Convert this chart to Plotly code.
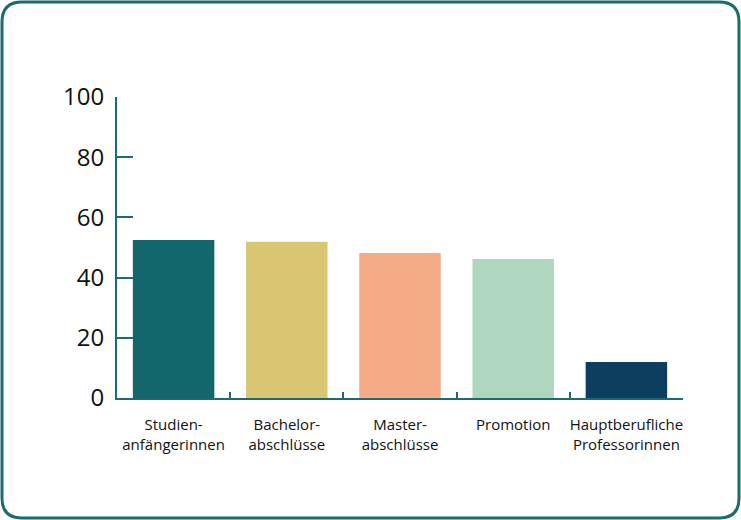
import plotly.graph_objects as go

categories = ["Studien-<br>anfängerinnen", "Bachelor-<br>abschlüsse", "Master-<br>abschlüsse",
              "Promotion", "Hauptberufliche<br>Professorinnen"]
values = [52.5, 51.9, 48.2, 46.2, 12.0]
colors = ["#13666b", "#d8c673", "#f6ab87", "#afd7be", "#0b3e5f"]
y_ticks = [0, 20, 40, 60, 80, 100]

W, H = 741, 520
L, R, T, B = 117, 58, 97, 122
pw, ph = W - L - R, H - T - B

def px(x):
    return (x - L) / pw

def py(y):
    return (H - B - y) / ph

# rounded border path in paper coordinates
x0, y0, x1, y1, r = 2, 2, 739, 518, 20
path = (f"M {px(x0+r)},{py(y0)} L {px(x1-r)},{py(y0)} Q {px(x1)},{py(y0)} {px(x1)},{py(y0+r)} "
        f"L {px(x1)},{py(y1-r)} Q {px(x1)},{py(y1)} {px(x1-r)},{py(y1)} "
        f"L {px(x0+r)},{py(y1)} Q {px(x0)},{py(y1)} {px(x0)},{py(y1-r)} "
        f"L {px(x0)},{py(y0+r)} Q {px(x0)},{py(y0)} {px(x0+r)},{py(y0)} Z")

axis_color = "#1b6b70"

fig = go.Figure(go.Bar(x=categories, y=values, marker=dict(color=colors, line=dict(width=0)),
                       hoverinfo="skip"))

fig.update_layout(
    width=W, height=H,
    margin=dict(l=L, r=R, t=T, b=B, pad=0),
    paper_bgcolor="white", plot_bgcolor="white",
    bargap=0.28, showlegend=False,
    shapes=[dict(type="path", xref="paper", yref="paper", path=path,
                 line=dict(color=axis_color, width=3), fillcolor="rgba(0,0,0,0)", layer="above")],
)
fig.update_yaxes(range=[0, 100], tickvals=y_ticks, showgrid=False, zeroline=False,
                 showline=True, linecolor=axis_color, linewidth=2,
                 ticks="inside", ticklen=16, tickwidth=2, tickcolor=axis_color,
                 tickfont=dict(family="Open Sans", size=24, color="#111111"),
                 ticklabelstandoff=6)
fig.update_xaxes(showgrid=False, showline=True, linecolor=axis_color, linewidth=2,
                 ticks="inside", ticklen=6, tickwidth=2, tickcolor=axis_color,
                 tickson="boundaries", tickangle=0,
                 tickfont=dict(family="Open Sans", size=15, color="#111111"),
                 ticklabelstandoff=12)

fig.write_html("out.html", config={"displayModeBar": False},
               post_script="document.body.style.margin='0';document.body.style.padding='0';")
